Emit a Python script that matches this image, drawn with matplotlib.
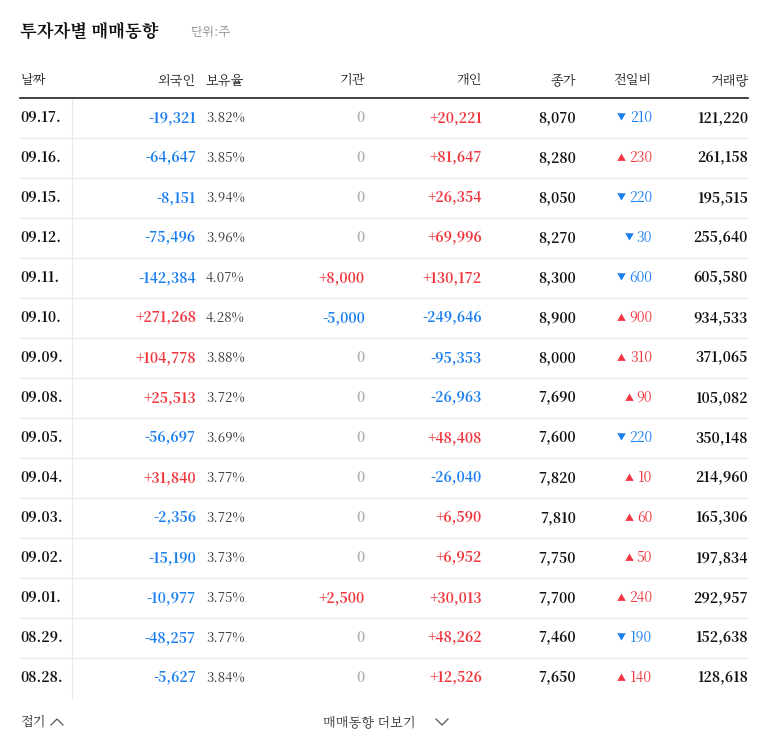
import matplotlib.pyplot as plt
from matplotlib import font_manager
from matplotlib.lines import Line2D

cjk = [f.name for f in font_manager.fontManager.ttflist if 'CJK' in f.name]
kr = [n for n in cjk if 'KR' in n] or cjk
plt.rcParams['font.family'] = (kr[:1] if kr else []) + ['Noto Sans CJK KR', 'DejaVu Sans']

dates = ['09.17.', '09.16.', '09.15.', '09.12.', '09.11.', '09.10.', '09.09.', '09.08.',
         '09.05.', '09.04.', '09.03.', '09.02.', '09.01.', '08.29.', '08.28.']
foreign = [-19321, -64647, -8151, -75496, -142384, 271268, 104778, 25513,
           -56697, 31840, -2356, -15190, -10977, -48257, -5627]
holding = [3.82, 3.85, 3.94, 3.96, 4.07, 4.28, 3.88, 3.72, 3.69, 3.77, 3.72, 3.73, 3.75, 3.77, 3.84]
institution = [0, 0, 0, 0, 8000, -5000, 0, 0, 0, 0, 0, 0, 2500, 0, 0]
individual = [20221, 81647, 26354, 69996, 130172, -249646, -95353, -26963,
              48408, -26040, 6590, 6952, 30013, 48262, 12526]
close = [8070, 8280, 8050, 8270, 8300, 8900, 8000, 7690, 7600, 7820, 7810, 7750, 7700, 7460, 7650]
change = [-210, 230, -220, -30, -600, 900, 310, 90, -220, 10, 60, 50, 240, -190, 140]
volume = [121220, 261158, 195515, 255640, 605580, 934533, 371065, 105082,
          350148, 214960, 165306, 197834, 292957, 152638, 128618]
headers = ['날짜', '외국인', '보유율', '기관', '개인', '종가', '전일비', '거래량']

W, H = 768, 749
RED, BLUE, GRAY, DARK = '#f0353c', '#1a7ef0', '#b0b0b0', '#111111'

fig = plt.figure(figsize=(W / 100, H / 100), dpi=100)

def px(x, y):
    return x / W, 1 - y / H

def txt(x, y, s, **kw):
    fig.text(*px(x, y), s, va='center', **kw)

def hline(y, x0, x1, color, lw):
    fig.add_artist(Line2D([x0 / W, x1 / W], [1 - y / H] * 2, color=color, lw=lw))

def signed(v):
    if v == 0:
        return '0', GRAY
    return (f'+{v:,}', RED) if v > 0 else (f'{v:,}', BLUE)

txt(20, 32, '투자자별 매매동향', fontsize=12.5, fontweight='bold', color=DARK)
txt(190, 32, '단위:주', fontsize=9, color='#888888')

hx = [(20, 'left'), (196, 'right'), (206, 'left'), (365, 'right'),
      (482, 'right'), (576, 'right'), (652, 'right'), (748, 'right')]
for (x, ha), h in zip(hx, headers):
    txt(x, 80, h, fontsize=9.5, color='#222222', ha=ha)
hline(98, 20, 748, '#222222', 1.2)

for i in range(len(dates)):
    y = 118 + 40 * i
    txt(20, y, dates[i], fontsize=10, fontweight='bold', color=DARK)
    s, c = signed(foreign[i])
    txt(196, y, s, fontsize=10, fontweight='bold', color=c, ha='right')
    txt(206, y, f'{holding[i]:.2f}%', fontsize=9.5, color='#333333')
    s, c = signed(institution[i])
    txt(365, y, s, fontsize=10, fontweight='bold', color=c, ha='right')
    s, c = signed(individual[i])
    txt(482, y, s, fontsize=10, fontweight='bold', color=c, ha='right')
    txt(576, y, f'{close[i]:,}', fontsize=10, fontweight='bold', color=DARK, ha='right')
    c = RED if change[i] > 0 else BLUE
    tri = '▲' if change[i] > 0 else '▼'
    txt(652, y, f'{abs(change[i])}', fontsize=10, color=c, ha='right')
    tx = 652 - 8.2 * len(str(abs(change[i]))) - 2
    txt(tx, y, tri, fontsize=6.5, color=c, ha='right')
    txt(748, y, f'{volume[i]:,}', fontsize=10, fontweight='bold', color=DARK, ha='right')
    if i < len(dates) - 1:
        hline(y + 20, 20, 748, '#e8e8e8', 0.8)

fig.add_artist(Line2D([72 / W] * 2, [1 - 99 / H, 1 - 698 / H], color='#e8e8e8', lw=0.8))

txt(20, 722, '접기', fontsize=9.5, color='#333333')
fig.add_artist(Line2D([51 / W, 57 / W, 63 / W], [1 - 725 / H, 1 - 719 / H, 1 - 725 / H],
                      color='#555555', lw=0.9))
txt(323, 722, '매매동향 더보기', fontsize=9.5, color='#333333')
fig.add_artist(Line2D([436 / W, 442 / W, 448 / W], [1 - 719 / H, 1 - 725 / H, 1 - 719 / H],
                      color='#555555', lw=0.9))

fig.savefig('out.png', dpi=100)
